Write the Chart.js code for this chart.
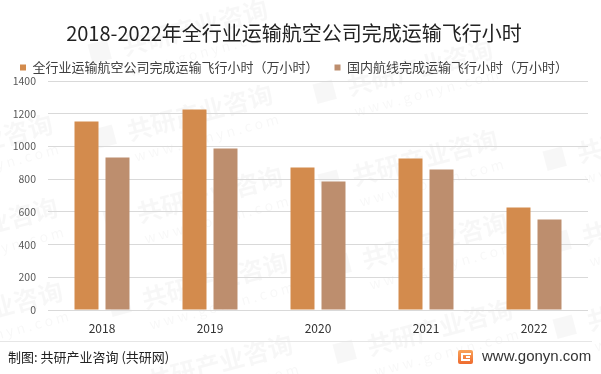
<!DOCTYPE html>
<html>
<head>
<meta charset="utf-8">
<script src="https://cdn.jsdelivr.net/npm/chart.js@4.4.0/dist/chart.umd.min.js"></script>
<style>
  html, body { margin: 0; padding: 0; background: #fff; }
  #wrap { position: relative; width: 601px; height: 374px; }
</style>
</head>
<body>
<div id="wrap"><canvas id="chart" width="601" height="374"></canvas></div>
<script>
var years = ["2018", "2019", "2020", "2021", "2022"];
var allHours = [1152, 1226, 871, 926, 627]; // 全行业 (万小时)
var domesticHours = [932, 987, 786, 859, 553]; // 国内航线 (万小时)
var seriesNames = [
  "全行业运输航空公司完成运输飞行小时（万小时）",
  "国内航线完成运输飞行小时（万小时）"
];
var yMin = 0, yMax = 1400, yStep = 200;

var FONT = "'Noto Sans CJK SC', 'Noto Sans', sans-serif";

// faint diagonal watermark, like the source picture
var watermarkSpots = [
  [185, 30], [190, 115], [200, 197], [205, 283], [210, 365],
  [410, 70], [415, 160], [425, 243], [430, 330],
  [640, 137], [645, 220], [650, 305],
  [-30, 145], [-25, 228], [-20, 312]
];

var watermarkPlugin = {
  id: "watermark",
  beforeDraw: function (chart) {
    var ctx = chart.ctx;
    ctx.save();
    ctx.fillStyle = "rgba(0,0,0,0.03)";
    watermarkSpots.forEach(function (p) {
      ctx.save();
      ctx.translate(p[0], p[1]);
      ctx.rotate(-0.26);
      ctx.font = "bold 25px " + FONT;
      ctx.textAlign = "center";
      ctx.textBaseline = "middle";
      ctx.fillRect(-98, -11, 20, 20);
      ctx.fillText("共研产业咨询", 10, 0);
      ctx.font = "14px " + FONT;
      ctx.fillText("w w w . g o n y n . c o m", 10, 26);
      ctx.restore();
    });
    ctx.restore();
  }
};

var footerPlugin = {
  id: "footer",
  afterDraw: function (chart) {
    var ctx = chart.ctx;
    ctx.save();
    ctx.strokeStyle = "#e6e6e6";
    ctx.lineWidth = 1;
    ctx.beginPath();
    ctx.moveTo(0, 341.5);
    ctx.lineTo(592, 341.5);
    ctx.stroke();

    ctx.fillStyle = "#222";
    ctx.font = "13px " + FONT;
    ctx.textBaseline = "middle";
    ctx.textAlign = "left";
    ctx.fillText("制图: 共研产业咨询 (共研网)", 8, 357);

    // little logo
    var g = ctx.createLinearGradient(458, 350, 458, 364);
    g.addColorStop(0, "#f9a35a");
    g.addColorStop(1, "#ee6a2e");
    ctx.fillStyle = g;
    ctx.beginPath();
    ctx.roundRect(458, 350, 15, 14, 2);
    ctx.fill();
    ctx.fillStyle = "#fff";
    ctx.fillRect(461, 353, 10, 2);
    ctx.fillRect(461, 353, 2, 8);
    ctx.fillRect(461, 359, 9, 2);
    ctx.fillRect(466, 356, 4, 2);

    ctx.fillStyle = "#333";
    ctx.font = "15px 'Liberation Sans', Arial, sans-serif";
    ctx.fillText("www.gonyn.com", 482, 357);
    ctx.restore();
  }
};

// legend row needs wider item spacing than its vertical room allows
var legendHeightPlugin = {
  id: "legendHeight",
  beforeLayout: function (chart) {
    var lg = chart.legend;
    if (lg && !lg._fixed) {
      var fit = lg.fit;
      lg.fit = function () {
        fit.call(this);
        this.height = 36;
      };
      lg._fixed = true;
    }
  }
};

var ctx = document.getElementById("chart").getContext("2d");

var chart = new Chart(ctx, {
  type: "bar",
  data: {
    labels: years,
    datasets: [
      {
        label: seriesNames[0],
        data: allHours,
        backgroundColor: "#d38b4d",
        categoryPercentage: 0.574,
        barPercentage: 0.774
      },
      {
        label: seriesNames[1],
        data: domesticHours,
        backgroundColor: "#bd8e6e",
        categoryPercentage: 0.574,
        barPercentage: 0.774
      }
    ]
  },
  options: {
    responsive: false,
    animation: false,
    devicePixelRatio: 1,
    layout: {
      padding: { left: 0, right: 13, top: 0, bottom: 34 }
    },
    plugins: {
      title: {
        display: true,
        text: "2018-2022年全行业运输航空公司完成运输飞行小时",
        color: "#222",
        font: { family: FONT, size: 20, weight: "normal" },
        padding: { top: 21, bottom: 0 }
      },
      legend: {
        display: true,
        position: "top",
        labels: {
          boxWidth: 6,
          boxHeight: 6,
          padding: 16,
          color: "#404040",
          font: { family: FONT, size: 13 }
        }
      },
      tooltip: { enabled: false }
    },
    scales: {
      x: {
        grid: { display: false, drawTicks: false },
        border: { display: false },
        ticks: {
          color: "#333",
          padding: 11,
          font: { family: FONT, size: 12 }
        },
        afterFit: function (scale) {
          scale.height = 30;
        }
      },
      y: {
        min: yMin,
        max: yMax,
        grid: { color: "#d9d9d9", lineWidth: 1, drawTicks: false },
        border: { display: false },
        ticks: {
          stepSize: yStep,
          color: "#595959",
          padding: 12,
          font: { family: FONT, size: 10.5 },
          callback: function (value) {
            return String(value);
          }
        },
        afterFit: function (scale) {
          scale.width = 48;
        }
      }
    }
  },
  plugins: [watermarkPlugin, legendHeightPlugin, footerPlugin]
});
</script>
</body>
</html>
